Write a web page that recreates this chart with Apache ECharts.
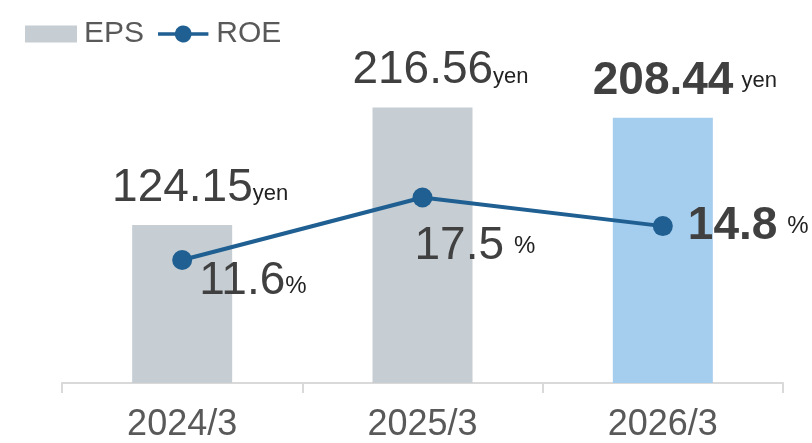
<!DOCTYPE html>
<html>
<head>
<meta charset="utf-8">
<script src="https://cdn.jsdelivr.net/npm/echarts@6/dist/echarts.min.js"></script>
<style>
  html, body { margin: 0; padding: 0; background: #fff; }
  #chart { width: 812px; height: 443px; }
</style>
</head>
<body>
<div id="chart"></div>
<script>
// chart data
const categories = ['2024/3', '2025/3', '2026/3']
const epsValues = [124.15, 216.56, 208.44]
const roeValues = [11.6, 17.5, 14.8]
const epsLabels = ['124.15', '216.56', '208.44']
const roeLabels = ['11.6', '17.5', '14.8']

const GRAY_BAR = '#c6ced3'
const BLUE_BAR = '#a5cdee'
const LINE_COLOR = '#1f5f92'
const NUM_COLOR = '#404040'
const UNIT_COLOR = '#222222'
const FONT = 'Liberation Sans, Arial, sans-serif'

// legend icon: thick line with a dot in the middle
const LINE_DOT_ICON = 'path://M0,7 H18.2 A9,9 0 0 1 35.8,7 H54 V11 H35.8 A9,9 0 0 1 18.2,11 H0 Z'

const chart = echarts.init(document.getElementById('chart'), null, { renderer: 'canvas' })

const numRich = {
    pad: { width: 36 },
    pad2: { width: 44 },
    num: { fontSize: 46, color: NUM_COLOR, fontFamily: FONT, verticalAlign: 'bottom', lineHeight: 46 },
    bnum: { fontSize: 46, fontWeight: 'bold', color: NUM_COLOR, fontFamily: FONT, lineHeight: 46 },
    unit: { fontSize: 22, color: UNIT_COLOR, fontFamily: FONT, verticalAlign: 'bottom', lineHeight: 22, padding: [0, 0, 6, 0] },
    unit2: { fontSize: 22, color: UNIT_COLOR, fontFamily: FONT, padding: [0, 0, 0, 8] },
    pct: { fontSize: 24, color: UNIT_COLOR, fontFamily: FONT, verticalAlign: 'bottom', lineHeight: 24, padding: [0, 0, 6, 0] },
    pct2: { fontSize: 24, color: UNIT_COLOR, fontFamily: FONT, padding: [0, 0, 0, 10] }
}

const barData = epsValues.map((v, i) => {
    const last = i === epsValues.length - 1
    return {
        value: v,
        itemStyle: { color: last ? BLUE_BAR : GRAY_BAR },
        label: {
            formatter: last
                ? '{pad2|}{bnum|' + epsLabels[i] + '}{unit2|yen}'
                : '{pad|}{num|' + epsLabels[i] + '}{unit|yen}'
        }
    }
})

const roeOffsets = [[2, 21], [-23, 49], [10, 0]]
const lineData = roeValues.map((v, i) => ({
    value: v,
    label: {
        offset: roeOffsets[i],
        formatter: i === 0
            ? '{num|' + roeLabels[i] + '}{pct|%}'
            : i === 1
                ? '{num|' + roeLabels[i] + '}{pct2|%}'
                : '{bnum|' + roeLabels[i] + '}{pct2|%}'
    }
}))

chart.setOption({
    animation: false,
    grid: { left: 62, right: 29, top: 65, bottom: 60 },
    legend: {
        left: 20,
        top: 14,
        itemWidth: 52,
        itemHeight: 17,
        itemGap: 14,
        textStyle: { fontSize: 30, color: '#595959', fontFamily: FONT, padding: [0, 0, 0, 2] },
        data: [
            { name: 'EPS', icon: 'rect', itemStyle: { color: GRAY_BAR } },
            { name: 'ROE', icon: LINE_DOT_ICON, itemStyle: { color: LINE_COLOR } }
        ]
    },
    xAxis: {
        type: 'category',
        data: categories,
        axisLine: { lineStyle: { color: '#d9d9d9', width: 2 } },
        axisTick: { show: true, length: 10, lineStyle: { color: '#d9d9d9', width: 2 } },
        axisLabel: { fontSize: 36, color: '#595959', fontFamily: FONT, margin: 24 }
    },
    yAxis: [
        { type: 'value', min: 0, max: 250, show: false },
        { type: 'value', min: 0, max: 30, show: false }
    ],
    series: [
        {
            name: 'EPS',
            type: 'bar',
            barWidth: 100,
            data: barData,
            label: { show: true, position: 'top', distance: 14, rich: numRich }
        },
        {
            name: 'ROE',
            type: 'line',
            yAxisIndex: 1,
            data: lineData,
            symbol: 'circle',
            symbolSize: 20,
            itemStyle: { color: LINE_COLOR },
            lineStyle: { color: LINE_COLOR, width: 4 },
            label: { show: true, position: 'right', rich: numRich }
        }
    ]
})
</script>
</body>
</html>
